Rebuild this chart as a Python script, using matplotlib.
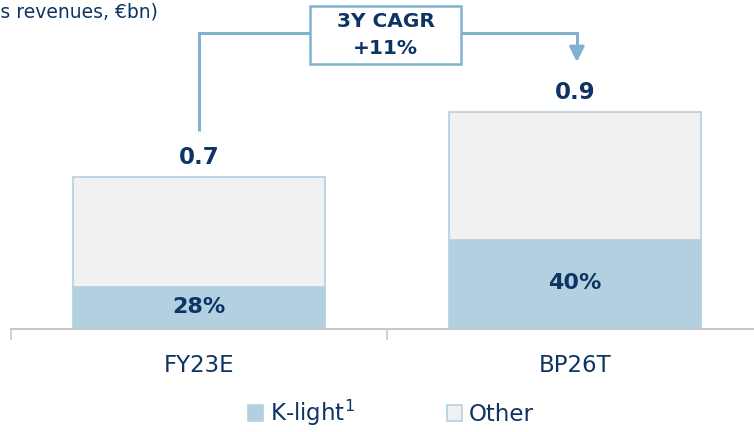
import matplotlib
matplotlib.use("Agg")
import matplotlib.pyplot as plt
from matplotlib.patches import Rectangle
from matplotlib.ticker import FixedLocator, NullFormatter, FixedFormatter

# ---- data ----
categories = ["FY23E", "BP26T"]
totals = [0.65, 0.93]            # €bn (bar heights)
total_labels = ["0.7", "0.9"]
klight_share = [0.28, 0.41]      # share of K-light
share_labels = ["28%", "40%"]
series_names = ["K-light$^{1}$", "Other"]
subtitle = "(Sales revenues, €bn)"

NAVY = "#0e3463"
BLUE = "#b3d0e1"
GREY = "#f1f1f1"
LINE = "#80b2d0"

plt.rcParams['font.family'] = ['DejaVu Sans']

fig = plt.figure(figsize=(7.54, 4.32), dpi=100)
W, H = 754, 432
base_px = 329
ax = fig.add_axes([11 / W, 1 - base_px / H, 752 / W, base_px / H])
ax.set_xlim(-0.5, 1.5)
ymax = 1.41
ax.set_ylim(0, ymax)

x = list(range(len(categories)))
klight = [t * s for t, s in zip(totals, klight_share)]
other = [t - k for t, k in zip(totals, klight)]
bw = 0.67
b1 = ax.bar(x, klight, width=bw, color=BLUE, edgecolor=BLUE, linewidth=1.2, label=series_names[0])
b2 = ax.bar(x, other, bottom=klight, width=bw, color=GREY, edgecolor=BLUE, linewidth=1.2, label=series_names[1])

for xi, t, k, tl, sl in zip(x, totals, klight, total_labels, share_labels):
    ax.annotate(tl, (xi, t), xytext=(0, 14), textcoords="offset points",
                ha="center", va="center", fontsize=16.5, fontweight="bold", color=NAVY)
    ax.text(xi, k / 2 + 0.005, sl, ha="center", va="center", fontsize=16,
            fontweight="bold", color=NAVY)

# spines / ticks
for s in ["top", "right", "left"]:
    ax.spines[s].set_visible(False)
ax.spines["bottom"].set_color("#c8c8c8")
ax.spines["bottom"].set_linewidth(1.5)
ax.yaxis.set_visible(False)
ax.xaxis.set_major_locator(FixedLocator([-0.5, 0.5, 1.5]))
ax.xaxis.set_major_formatter(NullFormatter())
ax.xaxis.set_minor_locator(FixedLocator(x))
ax.xaxis.set_minor_formatter(FixedFormatter(categories))
ax.tick_params(axis="x", which="major", length=8, width=1.2, color="#c8c8c8", direction="out")
ax.tick_params(axis="x", which="minor", length=0, pad=18, labelsize=16.5, labelcolor=NAVY)

# CAGR connector
y_line = 1.269
ax.plot([0.0, 0.0, 0.295], [0.85, y_line, y_line], color=LINE, lw=2.2, solid_joinstyle="miter",
        solid_capstyle="butt", clip_on=False)
ax.plot([0.697, 1.005, 1.005], [y_line, y_line, 1.2], color=LINE, lw=2.2, solid_joinstyle="miter",
        solid_capstyle="butt", clip_on=False)
ax.annotate("", xy=(1.005, 1.144), xytext=(1.005, 1.205),
            arrowprops=dict(arrowstyle="-|>,head_length=0.9,head_width=0.45", color=LINE, lw=2.2,
                            shrinkA=0, shrinkB=0), annotation_clip=False)
ax.add_patch(Rectangle((0.295, 1.136), 0.402, 0.248, facecolor="white", edgecolor=LINE,
                       lw=1.8, clip_on=False, zorder=3))
ax.text(0.496, 1.316, "3Y CAGR", ha="center", va="center", fontsize=14.5, fontweight="bold",
        color=NAVY, zorder=4)
ax.text(0.496, 1.204, "+11%", ha="center", va="center", fontsize=14.5, fontweight="bold",
        color=NAVY, zorder=4)

# subtitle (cut at left, as in the reference)
fig.text(158 / W, 1 - 12 / H, subtitle, ha="right", va="center", fontsize=13.5, color=NAVY)

# legend
fig.legend(handles=[b1, b2], labels=series_names, loc="center", bbox_to_anchor=(391 / W, 1 - 413 / H),
           ncol=2, frameon=False, fontsize=16.5, labelcolor=NAVY, handlelength=0.65, handleheight=0.65,
           handletextpad=0.3, columnspacing=4.0, borderpad=0)

fig.savefig("out.png", dpi=100)
